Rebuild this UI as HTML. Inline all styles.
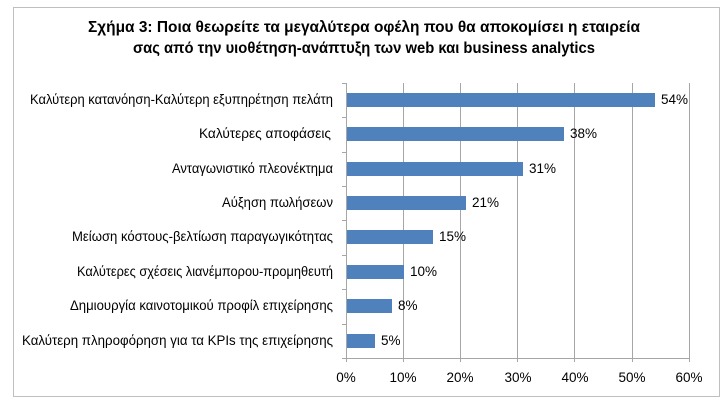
<!DOCTYPE html><html><head><meta charset="utf-8"><style>body{margin:0;background:#fff}svg{display:block;font-family:"Liberation Sans",sans-serif}</style></head><body>
<svg width="728" height="406" xmlns="http://www.w3.org/2000/svg">
<rect x="13.5" y="7.5" width="706" height="389" fill="#fff" stroke="#bfbfbf"/>
<text x="364" y="32" text-anchor="middle" font-size="16" font-weight="bold" textLength="552" lengthAdjust="spacingAndGlyphs">Σχήμα 3: Ποια θεωρείτε τα μεγαλύτερα οφέλη που θα αποκομίσει η εταιρεία</text>
<text x="364" y="53" text-anchor="middle" font-size="16" font-weight="bold" textLength="462" lengthAdjust="spacingAndGlyphs">σας από την υιοθέτηση-ανάπτυξη των web και business analytics</text>
<g stroke="#a6a6a6" stroke-width="1">
<line x1="403.5" y1="83" x2="403.5" y2="358"/><line x1="460.5" y1="83" x2="460.5" y2="358"/><line x1="517.5" y1="83" x2="517.5" y2="358"/><line x1="574.5" y1="83" x2="574.5" y2="358"/><line x1="632.5" y1="83" x2="632.5" y2="358"/><line x1="689.5" y1="83" x2="689.5" y2="358"/>
<line x1="346.5" y1="83" x2="346.5" y2="362"/><line x1="346" y1="358.5" x2="689" y2="358.5"/>
<line x1="342" y1="83.5" x2="346" y2="83.5"/><line x1="342" y1="117.5" x2="346" y2="117.5"/><line x1="342" y1="152.5" x2="346" y2="152.5"/><line x1="342" y1="186.5" x2="346" y2="186.5"/><line x1="342" y1="220.5" x2="346" y2="220.5"/><line x1="342" y1="255.5" x2="346" y2="255.5"/><line x1="342" y1="289.5" x2="346" y2="289.5"/><line x1="342" y1="324.5" x2="346" y2="324.5"/><line x1="342" y1="358.5" x2="346" y2="358.5"/>
<line x1="403.5" y1="358" x2="403.5" y2="362"/><line x1="460.5" y1="358" x2="460.5" y2="362"/><line x1="517.5" y1="358" x2="517.5" y2="362"/><line x1="574.5" y1="358" x2="574.5" y2="362"/><line x1="632.5" y1="358" x2="632.5" y2="362"/><line x1="689.5" y1="358" x2="689.5" y2="362"/>
</g>
<g fill="#4f81bd">
<rect x="347" y="93" width="308" height="14"/><rect x="347" y="127" width="217" height="14"/><rect x="347" y="162" width="176" height="14"/><rect x="347" y="196" width="119" height="14"/><rect x="347" y="230" width="86" height="14"/><rect x="347" y="265" width="57" height="14"/><rect x="347" y="299" width="45" height="14"/><rect x="347" y="334" width="28" height="14"/>
</g>
<g font-size="13.5" fill="#000">
<text x="661" y="104">54%</text><text x="570" y="138">38%</text><text x="529" y="173">31%</text><text x="472" y="207">21%</text><text x="439" y="241">15%</text><text x="410" y="276">10%</text><text x="398" y="310">8%</text><text x="381" y="345">5%</text>
</g>
<g font-size="13.5" lengthAdjust="spacingAndGlyphs">
<text x="30" y="104" textLength="303" lengthAdjust="spacingAndGlyphs">Καλύτερη κατανόηση-Καλύτερη εξυπηρέτηση πελάτη</text>
<text x="199" y="138" textLength="132" lengthAdjust="spacingAndGlyphs">Καλύτερες αποφάσεις</text>
<text x="172" y="173" textLength="161" lengthAdjust="spacingAndGlyphs">Ανταγωνιστικό πλεονέκτημα</text>
<text x="222" y="207" textLength="111" lengthAdjust="spacingAndGlyphs">Αύξηση πωλήσεων</text>
<text x="72" y="241" textLength="261" lengthAdjust="spacingAndGlyphs">Μείωση κόστους-βελτίωση παραγωγικότητας</text>
<text x="77" y="276" textLength="256" lengthAdjust="spacingAndGlyphs">Καλύτερες σχέσεις λιανέμπορου-προμηθευτή</text>
<text x="70" y="310" textLength="263" lengthAdjust="spacingAndGlyphs">Δημιουργία καινοτομικού προφίλ επιχείρησης</text>
<text x="22" y="345" textLength="311" lengthAdjust="spacingAndGlyphs">Καλύτερη πληροφόρηση για τα KPIs της επιχείρησης</text>
</g>
<g font-size="13.5" text-anchor="middle">
<text x="346" y="382">0%</text><text x="403" y="382">10%</text><text x="460" y="382">20%</text><text x="518" y="382">30%</text><text x="575" y="382">40%</text><text x="632" y="382">50%</text><text x="689" y="382">60%</text>
</g>
</svg>
</body></html>
